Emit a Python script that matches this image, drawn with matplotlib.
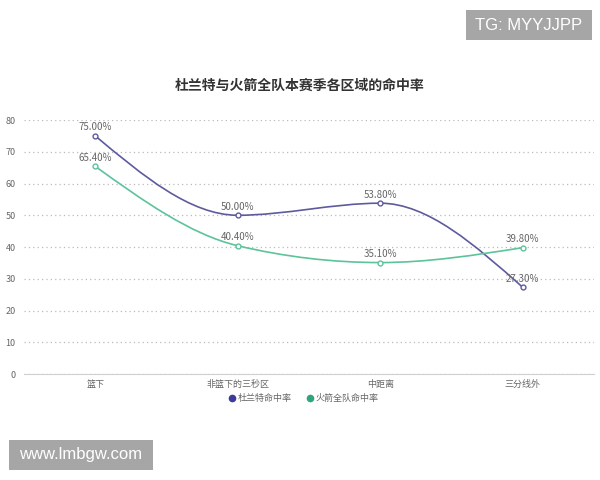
import matplotlib.pyplot as plt
from matplotlib.path import Path
from matplotlib.patches import PathPatch, Rectangle
import numpy as np

plt.rcParams['font.family'] = ['Noto Sans CJK SC', 'DejaVu Sans']

categories = ["篮下", "非篮下的三秒区", "中距离", "三分线外"]
durant = [75.0, 50.0, 53.8, 27.3]
rockets = [65.4, 40.4, 35.1, 39.8]
series_names = ["杜兰特命中率", "火箭全队命中率"]
line_colors = ["#5d5b9e", "#5cc39a"]
legend_colors = ["#3e3a9a", "#2fa67a"]


def monotone_path(xs, ys):
    # monotone cubic (like d3 curveMonotoneX) drawn as bezier segments
    xs = np.asarray(xs, float)
    ys = np.asarray(ys, float)
    n = len(xs)
    h = np.diff(xs)
    s = np.diff(ys) / h
    t = np.zeros(n)
    for i in range(1, n - 1):
        p = (s[i - 1] * h[i] + s[i] * h[i - 1]) / (h[i - 1] + h[i])
        t[i] = (np.sign(s[i - 1]) + np.sign(s[i])) * min(abs(s[i - 1]), abs(s[i]), 0.5 * abs(p))
    t[0] = (3 * s[0] - t[1]) / 2
    t[-1] = (3 * s[-1] - t[-2]) / 2
    verts = [(xs[0], ys[0])]
    codes = [Path.MOVETO]
    for i in range(n - 1):
        d = h[i] / 3
        verts += [(xs[i] + d, ys[i] + d * t[i]),
                  (xs[i + 1] - d, ys[i + 1] - d * t[i + 1]),
                  (xs[i + 1], ys[i + 1])]
        codes += [Path.CURVE4] * 3
    return Path(verts, codes)


fig = plt.figure(figsize=(6, 4.8), dpi=100)
ax = fig.add_axes([0.04, 0.2208, 0.95, 0.5292])

x = np.arange(len(categories))
for vals, lc in zip([durant, rockets], line_colors):
    ax.add_patch(PathPatch(monotone_path(x, vals), facecolor="none",
                           edgecolor=lc, lw=1.2, zorder=3))
    ax.plot(x, vals, linestyle="none", marker="o", ms=3.5, mfc="white",
            mec=lc, mew=1.0, zorder=4)
    for xi, v in zip(x, vals):
        ax.text(xi, v + 1.1, f"{v:.2f}%", ha="center", va="bottom",
                fontsize=7, color="#666666", zorder=5)

ax.set_xlim(-0.5, 3.5)
ax.set_ylim(0, 80)
ax.set_yticks(range(0, 81, 10))
ax.set_xticks(x)
ax.set_xticklabels(categories)
ax.tick_params(axis="both", length=0, labelsize=6.5, colors="#666666")
ax.tick_params(axis="y", pad=6)
ax.tick_params(axis="x", pad=4)
ax.grid(axis="y", linestyle=(0, (1, 2.5)), color="#bbbbbb", lw=0.9)
ax.set_axisbelow(True)
for side in ["top", "right", "left"]:
    ax.spines[side].set_visible(False)
ax.spines["bottom"].set_color("#d0d0d0")

fig.text(0.5, 0.822, "杜兰特与火箭全队本赛季各区域的命中率", ha="center", va="center",
         fontsize=10, fontweight="bold", color="#333333")

# legend
handles = [plt.Line2D([], [], linestyle="none", marker="o", ms=4.5, color=c)
           for c in legend_colors]
fig.legend(handles, series_names, loc="center", bbox_to_anchor=(0.505, 0.17),
           ncol=2, frameon=False, fontsize=6.5, labelcolor="#666666",
           handletextpad=0.1, columnspacing=1.6, handlelength=1.0)

# watermarks (boxes in figure pixels / 600x480)
for (x0, y0, w, h), label in [((466, 10, 126, 30), "TG: MYYJJPP"),
                              ((9, 440, 144, 30), "www.lmbgw.com")]:
    fig.add_artist(Rectangle((x0 / 600, 1 - (y0 + h) / 480), w / 600, h / 480,
                             transform=fig.transFigure, fc="#a6a6a6", ec="none"))
    fig.text((x0 + w / 2) / 600, 1 - (y0 + h / 2) / 480, label, ha="center",
             va="center", fontsize=12, color="white", family="Liberation Sans")

fig.savefig("out.png", dpi=100)
